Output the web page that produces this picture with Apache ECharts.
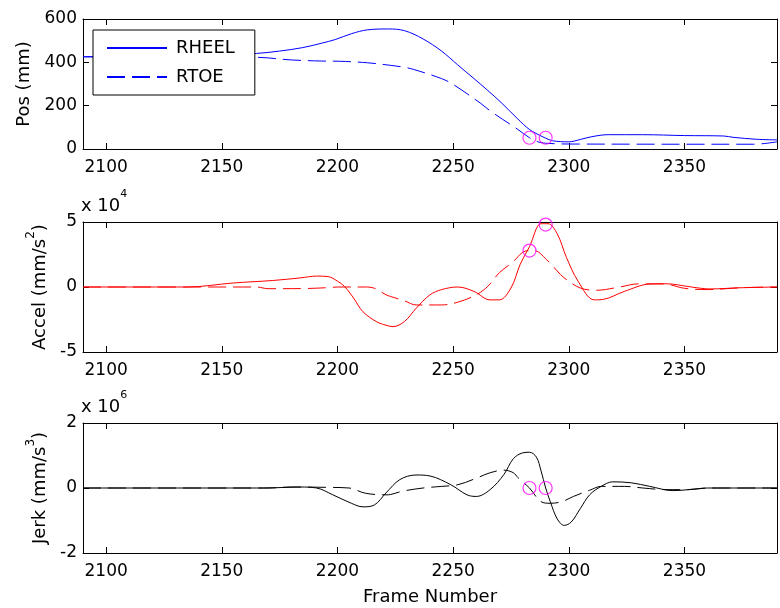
<!DOCTYPE html>
<html><head><meta charset="utf-8">
<script src="https://cdn.jsdelivr.net/npm/echarts@6/dist/echarts.min.js"></script>
<style>html,body{margin:0;padding:0;background:#fff}#c{width:780px;height:608px}</style>
</head><body><div id="c"></div>
<script>
// ---- data (frame numbers) ----
const xTicks = [2100, 2150, 2200, 2250, 2300, 2350];
const xRange = [2090, 2390];
const posTicks = [0, 200, 400, 600];             // mm
const accelTicks = [-50000, 0, 50000];            // mm/s^2
const jerkTicks = [-2000000, 0, 2000000];         // mm/s^3

// Position (mm)
const posHeelFrames = [2090,2110,2130,2150,2165,2175,2185,2193,2199,2206,2213,2222,2229,2237,2245,2252,2259,2265,2271,2278,2283,2288,2290,2293,2300,2305,2310,2317,2332,2350,2367,2371,2381,2390];
const posHeel       = [426, 428, 430, 434, 441, 452, 468, 488, 505, 532, 550, 554, 546, 508, 452, 388, 325, 270, 212, 138, 90,  60,  50,  38,  33,  44,  57,  66,  66,  62,  60,  54,  45,  42];
const posToeFrames  = [2090,2165,2180,2193,2201,2213,2223,2229,2233,2245,2250,2262,2266,2278,2283,2287,2291,2300,2380,2390];
const posToe        = [425, 423, 411, 406, 405, 398, 386, 377, 367, 325, 298, 210, 176, 90,  52,  32,  26,  23,  22,  33];

// Acceleration (mm/s^2)
const accHeelFrames = [2090,2135,2155,2172,2184,2191,2196,2200,2203,2207,2211,2217,2221,2224,2229,2234,2240,2245,2252,2259,2266,2270,2275,2279,2283,2288,2291,2295,2299,2304,2311,2315,2324,2335,2342,2353,2361,2374,2390];
const accHeel       = [0,0,3100,5000,7000,8400,8000,4500,500,-8600,-19000,-26800,-29400,-30500,-26500,-16400,-6000,-2000,0,-3400,-9900,-9900,-800,17500,31000,48700,48700,40900,22700,4500,-9900,-9500,-3400,2300,2500,0,-1500,-600,0];
const accToeFrames  = [2090,2165,2170,2185,2196,2200,2212,2216,2221,2223,2229,2234,2245,2252,2260,2265,2270,2276,2280,2283,2285,2291,2295,2298,2305,2312,2322,2330,2341,2350,2360,2375,2390];
const accToe        = [0,0,-1300,-1200,-500,0,0,-1000,-6000,-7300,-10700,-13800,-13800,-11700,-6000,500,11000,19500,26600,28000,28000,20000,12300,7000,-800,-2500,0,2400,2400,-1000,-2000,-500,0];

// Jerk (mm/s^3)
const jerkHeelFrames = [2090,2168,2184,2191,2198,2206,2211,2216,2221,2227,2234,2240,2249,2256,2260,2266,2272,2276,2280,2283,2286,2288,2290,2292,2295,2298,2301,2305,2309,2314,2319,2327,2335,2345,2352,2360,2390];
const jerkHeel       = [0,0,30000,0,-210000,-470000,-580000,-520000,-150000,260000,400000,370000,100000,-210000,-260000,-50000,420000,900000,1080000,1100000,950000,530000,0,-420000,-950000,-1150000,-1050000,-630000,-210000,50000,190000,160000,50000,-80000,-50000,0,0];
const jerkToeFrames  = [2090,2170,2180,2195,2205,2212,2221,2223,2228,2237,2245,2252,2260,2266,2272,2276,2278,2283,2288,2292,2297,2302,2309,2314,2324,2332,2342,2351,2361,2390];
const jerkToe        = [0,0,30000,20000,0,-160000,-210000,-200000,-100000,0,50000,100000,300000,470000,550000,470000,320000,0,-420000,-470000,-420000,-260000,-70000,50000,50000,0,-50000,-50000,0,0];

// Event markers (frame numbers, values)
const eventFrames = [2283, 2290];
const eventPos    = [52, 52];
const eventAccel  = [28000, 48000];
const eventJerk   = [0, 0];

const seriesNames = ['RHEEL', 'RTOE'];

// ---- chart ----
const FONT = 'DejaVu Sans';
const pair = (fs, vs) => fs.map((f, i) => [f, vs[i]]);
const gridTops = [19, 222, 423];
const grid = gridTops.map(t => ({ left: 83, right: 3, top: t, height: 130 }));

const xAxis = [];
const yAxis = [];
const yTicks = [posTicks, accelTicks, jerkTicks];
const yScale = [1, 1e4, 1e6];
const yNames = ['Pos (mm)', '{a|Accel (mm/s}{b|2}{a|)}', '{a|Jerk (mm/s}{b|3}{a|)}'];
const yGaps = [49, 33, 33];
const lineCol = '#000';
for (let i = 0; i < 3; i++) {
  const bottom = {
    gridIndex: i, type: 'value', min: xRange[0], max: xRange[1], position: 'bottom',
    axisLine: { onZero: false, lineStyle: { color: lineCol, width: 1 } },
    axisTick: { inside: true, length: 6, customValues: xTicks, lineStyle: { color: lineCol } },
    axisLabel: { customValues: xTicks, color: '#000', fontFamily: FONT, fontSize: 17, margin: 10, formatter: v => String(v) },
    splitLine: { show: false }
  };
  if (i === 2) {
    bottom.name = 'Frame Number';
    bottom.nameLocation = 'middle';
    bottom.nameGap = 35;
    bottom.nameTextStyle = { fontFamily: FONT, fontSize: 18, color: '#000' };
  }
  xAxis.push(bottom);
  xAxis.push({
    gridIndex: i, type: 'value', min: xRange[0], max: xRange[1], position: 'top',
    axisLine: { onZero: false, lineStyle: { color: lineCol, width: 1 } },
    axisTick: { inside: true, length: 6, customValues: xTicks, lineStyle: { color: lineCol } },
    axisLabel: { show: false }, splitLine: { show: false }
  });
  const t = yTicks[i];
  const sc = yScale[i];
  yAxis.push({
    gridIndex: i, type: 'value', min: t[0], max: t[t.length - 1], interval: t[1] - t[0], position: 'left',
    axisLine: { show: true, onZero: false, lineStyle: { color: lineCol, width: 1 } },
    axisTick: { show: true, inside: true, length: 6, lineStyle: { color: lineCol } },
    axisLabel: { color: '#000', fontFamily: FONT, fontSize: 17, margin: 6, formatter: v => String(Math.round(v / sc)) },
    splitLine: { show: false },
    name: yNames[i], nameLocation: 'middle', nameGap: yGaps[i], nameRotate: 90,
    nameTextStyle: {
      fontFamily: FONT, fontSize: 18, color: '#000',
      rich: {
        a: { fontFamily: FONT, fontSize: 18, color: '#000', lineHeight: 24, verticalAlign: 'bottom' },
        b: { fontFamily: FONT, fontSize: 12, color: '#000', lineHeight: 24, verticalAlign: 'top' }
      }
    }
  });
  yAxis.push({
    gridIndex: i, type: 'value', min: t[0], max: t[t.length - 1], interval: t[1] - t[0], position: 'right',
    axisLine: { show: true, onZero: false, lineStyle: { color: lineCol, width: 1 } },
    axisTick: { show: true, inside: true, length: 6, lineStyle: { color: lineCol } },
    axisLabel: { show: false }, splitLine: { show: false }
  });
}

const DASH = [18, 7];
function lineS(name, idx, data, color, dashed) {
  return {
    name, type: 'line', xAxisIndex: idx * 2, yAxisIndex: idx * 2, data,
    symbol: 'none', showSymbol: false, smooth: 0.35,
    lineStyle: { color, width: 1, type: dashed ? DASH : 'solid' },
    itemStyle: { color }, emphasis: { disabled: true }, animation: false, z: 2
  };
}
function markS(idx, ys) {
  return {
    name: 'events' + idx, type: 'scatter', xAxisIndex: idx * 2, yAxisIndex: idx * 2,
    data: pair(eventFrames, ys), symbol: 'circle', symbolSize: 13,
    itemStyle: { color: 'rgba(0,0,0,0)', borderColor: '#ff00ff', borderWidth: 1.2 },
    emphasis: { disabled: true }, animation: false, z: 3
  };
}

const series = [
  lineS(seriesNames[0], 0, pair(posHeelFrames, posHeel), '#0000ff', false),
  lineS(seriesNames[1], 0, pair(posToeFrames, posToe), '#0000ff', true),
  markS(0, eventPos),
  lineS(seriesNames[0] + ' accel', 1, pair(accHeelFrames, accHeel), '#ff0000', false),
  lineS(seriesNames[1] + ' accel', 1, pair(accToeFrames, accToe), '#ff0000', true),
  markS(1, eventAccel),
  lineS(seriesNames[0] + ' jerk', 2, pair(jerkHeelFrames, jerkHeel), '#000000', false),
  lineS(seriesNames[1] + ' jerk', 2, pair(jerkToeFrames, jerkToe), '#000000', true),
  markS(2, eventJerk)
];

const chart = echarts.init(document.getElementById('c'), null, { renderer: 'canvas' });
chart.setOption({
  backgroundColor: '#fff',
  animation: false,
  grid, xAxis, yAxis, series,
  legend: {
    data: seriesNames, orient: 'vertical', left: 93, top: 30,
    itemWidth: 60, itemHeight: 14, itemGap: 11, padding: [9, 20, 9, 13],
    backgroundColor: '#fff', borderColor: '#000', borderWidth: 1,
    itemStyle: { opacity: 0 },
    textStyle: { fontFamily: FONT, fontSize: 18, color: '#000', padding: [0, 0, 0, 4] },
    selectedMode: false, z: 10
  },
  graphic: [
    { type: 'text', left: 81, top: 189, z: 10,
      style: { text: '{a|x 10}{b|4}', rich: {
        a: { fontFamily: FONT, fontSize: 18, fill: '#000', lineHeight: 26, verticalAlign: 'bottom' },
        b: { fontFamily: FONT, fontSize: 11, fill: '#000', lineHeight: 26, verticalAlign: 'top' } } } },
    { type: 'text', left: 81, top: 390, z: 10,
      style: { text: '{a|x 10}{b|6}', rich: {
        a: { fontFamily: FONT, fontSize: 18, fill: '#000', lineHeight: 26, verticalAlign: 'bottom' },
        b: { fontFamily: FONT, fontSize: 11, fill: '#000', lineHeight: 26, verticalAlign: 'top' } } } }
  ]
});
</script></body></html>
